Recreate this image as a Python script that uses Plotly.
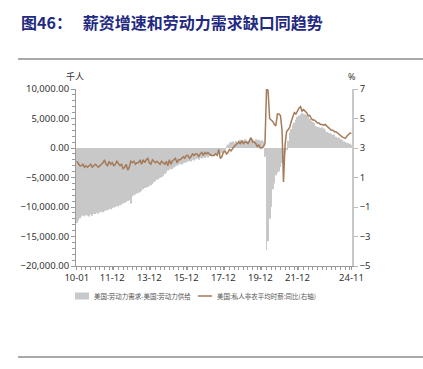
import pandas as pd
import plotly.graph_objects as go

# ---- data (monthly, 2010-01 .. 2024-11) ----
months = pd.date_range("2010-01-01", "2024-11-01", freq="MS").strftime("%Y-%m-%d").tolist()

gap_2010 = [-12700, -12300, -11900, -11600, -11500, -11600, -11400, -11500, -11600, -11300, -11500, -11200]
gap_2011 = [-11200, -11000, -11100, -10900, -10800, -10900, -10700, -10600, -10500, -10300, -10400, -10200]
gap_2012 = [-10100, -10000, -9800, -9900, -9700, -9600, -9400, -9300, -9100, -9000, -8800, -9400]
gap_2013 = [-8200, -8000, -7900, -7700, -7600, -7500, -7300, -7000, -6800, -6700, -6600, -6400]
gap_2014 = [-6300, -6100, -5800, -5600, -5400, -5300, -5100, -4900, -4700, -4400, -4100, -3800]
gap_2015 = [-3700, -3500, -3600, -3300, -3100, -3000, -2900, -2700, -2800, -2600, -2500, -2400]
gap_2016 = [-2300, -2200, -2300, -2000, -2100, -1900, -1800, -2000, -1700, -1800, -1600, -1700]
gap_2017 = [-1500, -1600, -1400, -1300, -1400, -1100, -1200, -1000, -900, -1000, -800, -700]
gap_2018 = [-300, 400, 600, 900, 1000, 1100, 900, 1200, 1000, 1300, 1400, 1200]
gap_2019 = [1300, 1500, 1400, 1200, 1600, 1300, 1400, 1200, 1500, 1300, 1400, 1200]
gap_2020 = [1300, 1100, -1500, -17300, -15800, -12000, -10000, -7000, -6000, -4600, -4200, -4000]
gap_2021 = [-3200, -2600, -1800, -800, -200, 1200, 2600, 3200, 3900, 4300, 4800, 5300]
gap_2022 = [5500, 5700, 5900, 5800, 5700, 5600, 5400, 4900, 4600, 4400, 4200, 3700]
gap_2023 = [3600, 3500, 3400, 3500, 3300, 3000, 2700, 2600, 2500, 2400, 2200, 2300]
gap_2024 = [1900, 1700, 1800, 1500, 1300, 1100, 1000, 900, 800, 700, 500]

wage_2010 = [2.1, 1.9, 1.8, 1.8, 1.9, 1.7, 1.8, 1.7, 1.8, 1.9, 1.7, 1.8]
wage_2011 = [1.9, 1.8, 1.7, 1.8, 1.9, 2.0, 2.2, 1.9, 1.8, 2.1, 1.9, 2.0]
wage_2012 = [1.8, 1.9, 2.1, 1.9, 1.8, 1.9, 1.6, 1.7, 1.9, 1.5, 1.7, 2.1]
wage_2013 = [2.0, 2.1, 1.9, 2.0, 2.0, 2.2, 1.9, 2.2, 2.0, 2.2, 2.3, 2.0]
wage_2014 = [1.9, 2.2, 2.1, 2.0, 2.1, 2.0, 1.9, 2.1, 2.0, 1.9, 2.1, 1.8]
wage_2015 = [2.2, 1.9, 2.1, 2.2, 2.3, 2.0, 2.2, 2.2, 2.3, 2.4, 2.3, 2.5]
wage_2016 = [2.5, 2.3, 2.4, 2.6, 2.5, 2.6, 2.6, 2.4, 2.6, 2.7, 2.5, 2.7]
wage_2017 = [2.6, 2.7, 2.6, 2.5, 2.5, 2.5, 2.6, 2.5, 2.9, 2.3, 2.4, 2.7]
wage_2018 = [2.8, 2.6, 2.7, 2.9, 2.8, 3.0, 3.1, 3.2, 3.3, 3.4, 3.3, 3.5]
wage_2019 = [3.3, 3.4, 3.4, 3.3, 3.5, 3.7, 3.4, 3.4, 3.3, 3.1, 3.2, 3.0]
wage_2020 = [3.0, 3.1, 3.3, 7.0, 6.9, 5.0, 4.9, 4.8, 4.6, 4.5, 5.3, 5.3]
wage_2021 = [5.2, 4.2, 0.7, 3.2, 4.1, 4.3, 4.4, 4.8, 5.1, 5.4, 5.3, 5.5]
wage_2022 = [5.7, 5.8, 5.5, 5.6, 5.5, 5.4, 5.2, 5.2, 5.0, 4.9, 4.9, 4.8]
wage_2023 = [4.7, 4.7, 4.6, 4.6, 4.55, 4.6, 4.5, 4.4, 4.3, 4.2, 4.2, 4.1]
wage_2024 = [4.1, 4.0, 3.9, 3.8, 3.75, 3.7, 3.65, 3.8, 3.9, 4.0, 4.0]

labor_gap = (gap_2010 + gap_2011 + gap_2012 + gap_2013 + gap_2014 + gap_2015 + gap_2016 + gap_2017
             + gap_2018 + gap_2019 + gap_2020 + gap_2021 + gap_2022 + gap_2023 + gap_2024)
wage_yoy = (wage_2010 + wage_2011 + wage_2012 + wage_2013 + wage_2014 + wage_2015 + wage_2016 + wage_2017
            + wage_2018 + wage_2019 + wage_2020 + wage_2021 + wage_2022 + wage_2023 + wage_2024)

x_tick_vals = ["2010-01-01", "2011-12-01", "2013-12-01", "2015-12-01", "2017-12-01",
               "2019-12-01", "2021-12-01", "2024-11-01"]
x_tick_text = ["10-01", "11-12", "13-12", "15-12", "17-12", "19-12", "21-12", "24-11"]

name_bar = "美国:劳动力需求-美国:劳动力供给"
name_line = "美国:私人非农平均时薪:同比(右轴)"
title_text = "图46：   薪资增速和劳动力需求缺口同趋势"

W, H = 423, 369
FONT = "Noto Sans, Noto Sans CJK SC, sans-serif"
AX = "#9a9a9a"
BAR_C = "#c8c8c8"
LINE_C = "#a57a58"

fig = go.Figure()
fig.add_trace(go.Bar(x=months, y=labor_gap, name=name_bar, marker_color=BAR_C,
                     marker_line_width=0, yaxis="y", showlegend=False))
fig.add_trace(go.Scatter(x=months, y=wage_yoy, name=name_line, mode="lines",
                         line=dict(color=LINE_C, width=1.5), yaxis="y2", showlegend=False))

def px_x(p):
    return p / W

def px_y(p):
    return 1 - p / H

fig.update_layout(
    width=W, height=H, autosize=False,
    margin=dict(l=0, r=0, t=0, b=0, pad=0),
    paper_bgcolor="white", plot_bgcolor="white",
    font=dict(family=FONT, size=9.5, color="#333333"),
    bargap=0.35,
    showlegend=False,
    xaxis=dict(domain=[px_x(76), px_x(352)], type="date",
               range=["2009-12-16", "2024-11-12"],
               tickmode="array", tickvals=x_tick_vals, ticktext=x_tick_text,
               ticks="outside", ticklen=3, tickcolor=AX, showline=True, linecolor=AX,
               linewidth=1, showgrid=False, zeroline=False, automargin=False,
               tickfont=dict(size=9.5, color="#333333"),
               minor=dict(ticks="outside", ticklen=3, tickcolor=AX, dtick="M3",
                          tick0="2010-01-01", showgrid=False),
               anchor="y"),
    yaxis=dict(domain=[px_y(266), px_y(89)], range=[-20000, 10000], dtick=5000,
               tickformat=",.2f", ticks="outside", ticklen=4, tickcolor=AX, automargin=False,
               showline=True, linecolor=AX, linewidth=1, showgrid=False, zeroline=False,
               minor=dict(ticks="outside", ticklen=3, tickcolor=AX, dtick=1000, showgrid=False),
               tickfont=dict(size=9.5, color="#333333")),
    yaxis2=dict(overlaying="y", side="right", anchor="x", range=[-5, 7], tick0=1, dtick=2,
                ticks="outside", ticklen=4, tickcolor="#bbbbbb", showline=True, automargin=False,
                linecolor="#c8c8c8", linewidth=1.5, showgrid=False, zeroline=False,
                tickfont=dict(size=9.5, color="#333333")),
)

# title
fig.add_annotation(text=title_text, xref="paper", yref="paper", x=px_x(19), y=px_y(22),
                   xanchor="left", yanchor="middle", showarrow=False,
                   font=dict(family="Noto Sans CJK SC", size=16, color="#1f2a80", weight="bold"))
# axis unit labels
fig.add_annotation(text="千人", xref="paper", yref="paper", x=px_x(75), y=px_y(76),
                   xanchor="center", yanchor="middle", showarrow=False,
                   font=dict(size=9, color="#333333"))
fig.add_annotation(text="%", xref="paper", yref="paper", x=px_x(352), y=px_y(76),
                   xanchor="center", yanchor="middle", showarrow=False,
                   font=dict(size=9, color="#333333"))

# legend (drawn in paper coords)
LEG_FONT = dict(family="Noto Sans CJK SC", size=6.5, color="#555555")
fig.add_shape(type="rect", xref="paper", yref="paper", x0=px_x(75), x1=px_x(89),
              y0=px_y(299.5), y1=px_y(292.5), fillcolor=BAR_C, line=dict(width=0))
fig.add_annotation(text=name_bar, xref="paper", yref="paper", x=px_x(92), y=px_y(296),
                   xanchor="left", yanchor="middle", showarrow=False, font=LEG_FONT)
fig.add_shape(type="line", xref="paper", yref="paper", x0=px_x(198), x1=px_x(212),
              y0=px_y(296), y1=px_y(296), line=dict(color=LINE_C, width=1.5))
fig.add_annotation(text=name_line, xref="paper", yref="paper", x=px_x(215), y=px_y(296),
                   xanchor="left", yanchor="middle", showarrow=False, font=LEG_FONT)

# separator lines
fig.add_shape(type="line", xref="paper", yref="paper", x0=px_x(18), x1=1, y0=px_y(59), y1=px_y(59),
              line=dict(color="#8c8c8c", width=1.5))
fig.add_shape(type="line", xref="paper", yref="paper", x0=px_x(18), x1=1, y0=px_y(357), y1=px_y(357),
              line=dict(color="#8c8c8c", width=1.5))

fig.write_html("out.html", config={"displayModeBar": False},
               post_script="document.body.style.margin='0';document.body.style.overflow='hidden';")
